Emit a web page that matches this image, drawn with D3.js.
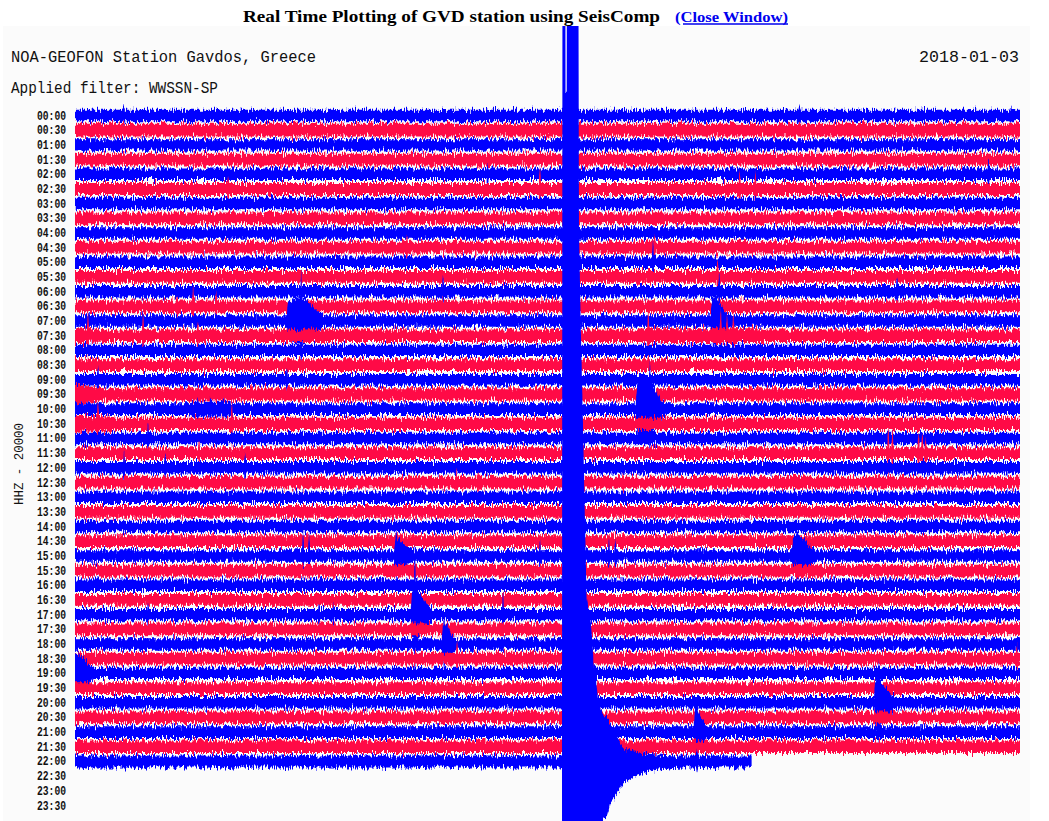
<!DOCTYPE html>
<html><head><meta charset="utf-8">
<script src="https://cdn.jsdelivr.net/npm/d3@7"></script>
<style>html,body{margin:0;padding:0;background:#fff}svg{display:block}</style>
</head><body>
<svg id="c" width="1049" height="821"></svg>
<script>
// ---- data (amplitudes in thousands of counts; 20k counts = one row step) ----
const rowLabels = ["00:00","00:30","01:00","01:30","02:00","02:30","03:00","03:30","04:00","04:30",
  "05:00","05:30","06:00","06:30","07:00","07:30","08:00","08:30","09:00","09:30",
  "10:00","10:30","11:00","11:30","12:00","12:30","13:00","13:30","14:00","14:30",
  "15:00","15:30","16:00","16:30","17:00","17:30","18:00","18:30","19:00","19:30",
  "20:00","20:30","21:00","21:30","22:00","22:30","23:00","23:30"];
const baseAmp = [7.8,8.6,7.8,8.0,7.8,8.2,7.8,8.0,7.8,8.0,
  7.8,8.0,7.8,8.0,7.8,8.4,7.8,8.0,7.8,8.4,
  8.0,8.4,7.8,8.0,7.8,8.0,7.8,8.0,7.8,8.0,
  7.8,8.0,7.8,8.0,7.8,8.0,7.8,8.0,7.8,8.0,
  7.8,8.0,8.0,8.4,8.2];
const lastRowEndMinute = 21.48;
const spikes = [ // [row, minute, amplitude]
  [0,1.55,13.6],[0,23.0,16],[0,29.7,12],
  [4,13.1,16],[4,29.0,19],
  [5,4.86,22],[5,14.76,33],[5,21.1,26],[5,21.6,24],
  [9,10.54,16],[9,18.4,16],
  [10,18.35,30],
  [11,20.4,27],
  [12,11.68,20],[12,20.45,26],[12,26.1,20],
  [13,3.24,16],[13,3.75,27],[13,4.48,22],
  [14,7.18,72],
  [15,0.41,35],[15,2.16,31],[15,3.9,19],[15,18.2,41],[15,20.5,38],[15,20.7,30],[15,20.9,34],
  [18,0.73,19],[18,6.73,18],
  [20,3.9,15],[20,4.3,16],[20,4.7,14],[20,18.25,67],
  [21,0.73,33],[21,4.98,33],
  [22,2.32,20],
  [23,3.94,16],[23,25.82,41],[23,25.95,35],[23,26.78,31],[23,26.9,28],[23,27.0,24],
  [24,1.56,23],[24,2.86,18],[24,5.4,22],
  [25,12.1,16],[25,12.8,16],[25,17.4,14],
  [30,7.24,35],[30,7.43,33],[30,10.2,34],[30,14.76,20],[30,16.95,23],[30,17.15,21],[30,22.91,33],
  [34,2.32,16],[34,7.75,16],[34,8.2,15],[34,10.79,98],[34,13.59,30],
  [36,11.72,36],
  [37,12.13,26],[37,29.9,20],
  [40,25.52,62],
  [42,19.7,40],
  [44,19.75,18]
];
const events = [ // [row, [[minute, amplitude], ...]]
  [14, [[6.72,7.8],[6.76,28],[6.95,30],[7.1,32],[7.3,30],[7.5,22],[7.7,13],[7.9,7.8]]],
  [14, [[20.18,7.8],[20.22,30],[20.35,33],[20.5,22],[20.65,12],[20.8,7.8]]],
  [15, [[0,10],[0.8,9.5],[1.0,8.4]]],
  [15, [[18.1,8.4],[18.2,10],[21.8,10],[21.9,8.4]]],
  [19, [[0,13],[0.6,10.5],[0.8,8.4]]],
  [20, [[3.6,8.0],[3.7,10],[4.9,10],[5.0,8.0]]],
  [20, [[17.8,8.0],[17.86,36],[18.1,40],[18.4,30],[18.6,12],[18.8,8.0]]],
  [21, [[0,11],[1.1,10],[1.3,8.4]]],
  [30, [[10.12,7.8],[10.16,20],[10.28,24],[10.45,16],[10.6,10],[10.75,7.8]]],
  [30, [[22.76,7.8],[22.8,26],[22.95,30],[23.15,22],[23.35,12],[23.55,7.8]]],
  [34, [[10.66,7.8],[10.7,30],[10.85,34],[11.0,26],[11.15,14],[11.35,7.8]]],
  [36, [[11.64,7.8],[11.68,24],[11.8,27],[11.95,14],[12.1,7.8]]],
  [38, [[0,27],[0.12,27],[0.3,20],[0.45,12],[0.6,7.8]]],
  [40, [[25.37,7.8],[25.4,30],[25.5,35],[25.7,22],[25.9,12],[26.1,7.8]]],
  [42, [[19.64,8.0],[19.68,30],[19.75,34],[19.85,22],[20.0,11],[20.12,8.0]]]
];
const quakeRow = 44;
const quake = [ // [minute, up, down]
  [15.46,8.2,8.2],[15.475,1100,1100],[15.565,1100,1100],[15.572,911,1100],[15.61,911,1100],
  [15.617,1100,1100],[15.98,1100,1100],[16.0,722,1100],[16.06,586,1100],[16.13,451,1100],
  [16.24,223,1100],[16.38,188,1100],[16.46,136,1100],[16.54,114,1100],[16.6,87,1100],
  [16.64,75,90],[16.75,65,80],[16.9,60,75],[17.0,50,55],[17.2,33,45],[17.4,18,30],
  [17.7,14,22],[18.1,11,15],[18.5,9.5,11],[19.0,8.2,9],[19.3,8.2,8.2]
];
const traceColors = ["#0000ff","#ff0a46"];

// ---- drawing ----
const svg = d3.select("#c");
const x = d3.scaleLinear().domain([0,30]).range([75,1020]);
const yRow = d3.scaleLinear().domain([0,47]).range([115.5,805.5]);
const amp = d3.scaleLinear().domain([0,20]).range([0, yRow(1)-yRow(0)]);

const defs = svg.append("defs");
defs.append("clipPath").attr("id","panelClip").append("rect")
  .attr("x",0).attr("y",26).attr("width",1049).attr("height",795);
const f = defs.append("filter").attr("id","jit").attr("filterUnits","userSpaceOnUse")
  .attr("x",0).attr("y",0).attr("width",1049).attr("height",821)
  .attr("color-interpolation-filters","sRGB");
f.append("feTurbulence").attr("type","fractalNoise").attr("baseFrequency","0.9 0.11")
  .attr("numOctaves",2).attr("seed",7).attr("result","n");
f.append("feColorMatrix").attr("in","n").attr("type","matrix")
  .attr("values","0 0 0 0 0.5  0 1 0 0 0  0 0 0 0 0  0 0 0 0 1").attr("result","m");
f.append("feDisplacementMap").attr("in","SourceGraphic").attr("in2","m")
  .attr("scale",12).attr("xChannelSelector","R").attr("yChannelSelector","G");

// panel
svg.append("rect").attr("x",3).attr("y",26).attr("width",1027).attr("height",800).attr("fill","#fbfbfb");

// title
svg.append("text").attr("x",243).attr("y",22).attr("font-family","Liberation Serif")
  .attr("font-weight","bold").attr("font-size",17).attr("textLength",417)
  .attr("lengthAdjust","spacingAndGlyphs").attr("fill","#000")
  .text("Real Time Plotting of GVD station using SeisComp");
svg.append("text").attr("x",675).attr("y",22).attr("font-family","Liberation Serif")
  .attr("font-weight","bold").attr("font-size",15).attr("textLength",113)
  .attr("lengthAdjust","spacingAndGlyphs").attr("fill","#0000ee")
  .text("(Close Window)");
svg.append("line").attr("x1",683).attr("x2",788).attr("y1",24).attr("y2",24)
  .attr("stroke","#0000ee").attr("stroke-width",1.3);

const mono = "Liberation Mono, DejaVu Sans Mono, monospace";
svg.append("text").attr("x",11).attr("y",62).attr("font-family",mono).attr("font-size",16.5)
  .attr("textLength",305).attr("lengthAdjust","spacingAndGlyphs").attr("fill","#111")
  .text("NOA-GEOFON Station Gavdos, Greece");
svg.append("text").attr("x",919).attr("y",62).attr("font-family",mono).attr("font-size",16.5)
  .attr("textLength",100).attr("lengthAdjust","spacingAndGlyphs").attr("fill","#111")
  .text("2018-01-03");
svg.append("text").attr("x",11).attr("y",93).attr("font-family",mono).attr("font-size",16.5)
  .attr("textLength",207).attr("lengthAdjust","spacingAndGlyphs").attr("fill","#111")
  .text("Applied filter: WWSSN-SP");

// row labels
svg.append("g").selectAll("text").data(rowLabels).join("text")
  .attr("x",66).attr("y",(d,i)=>yRow(i)+4).attr("text-anchor","end")
  .attr("font-family",mono).attr("font-size",12).attr("font-weight","bold").attr("textLength",29)
  .attr("lengthAdjust","spacingAndGlyphs").attr("fill","#111").text(d=>d);

svg.append("text").attr("transform","translate(23,464) rotate(-90)").attr("text-anchor","middle")
  .attr("font-family",mono).attr("font-size",13).attr("textLength",82)
  .attr("lengthAdjust","spacingAndGlyphs").attr("fill","#111").text("HHZ - 20000");

// traces
function pl(points, t, k){
  if (t < points[0][0] || t > points[points.length-1][0]) return -Infinity;
  for (let i=1;i<points.length;i++){
    const a=points[i-1], b=points[i];
    if (t <= b[0]) { const u = b[0]===a[0]?1:(t-a[0])/(b[0]-a[0]); return a[k]+(b[k]-a[k])*u; }
  }
  return points[points.length-1][k];
}
const hw = 0.035;
const rows = baseAmp.map((base, r) => {
  const end = r === baseAmp.length-1 ? lastRowEndMinute : 30;
  const sp = spikes.filter(s=>s[0]===r).map(s=>[[s[1]-hw,base],[s[1],s[2]],[s[1]+hw,base]]);
  const ev = events.filter(e=>e[0]===r).map(e=>e[1]);
  const qk = r === quakeRow ? quake : null;
  let knots = [0,end];
  sp.forEach(p=>p.forEach(q=>knots.push(q[0])));
  ev.forEach(p=>p.forEach(q=>knots.push(q[0])));
  if (qk) qk.forEach(q=>knots.push(q[0]));
  knots = Array.from(new Set(knots.filter(t=>t>=0&&t<=end))).sort((a,b)=>a-b);
  const pts = knots.map(t=>{
    let up = base, dn = base;
    sp.concat(ev).forEach(p=>{ const v=pl(p,t,1); up=Math.max(up,v); dn=Math.max(dn,v); });
    if (qk){ up=Math.max(up,pl(qk,t,1)); dn=Math.max(dn,pl(qk,t,2)); }
    return {m:t, up, dn};
  });
  return {r, pts};
});

const gClip = svg.append("g").attr("clip-path","url(#panelClip)");
const gTr = gClip.append("g").attr("filter","url(#jit)");
gTr.selectAll("path").data(rows).join("path")
  .attr("fill",d=>traceColors[d.r%2])
  .attr("d",d=>d3.area().x(p=>x(p.m)).y0(p=>yRow(d.r)+amp(p.dn)).y1(p=>yRow(d.r)-amp(p.up))(d.pts));
</script>
</body></html>
